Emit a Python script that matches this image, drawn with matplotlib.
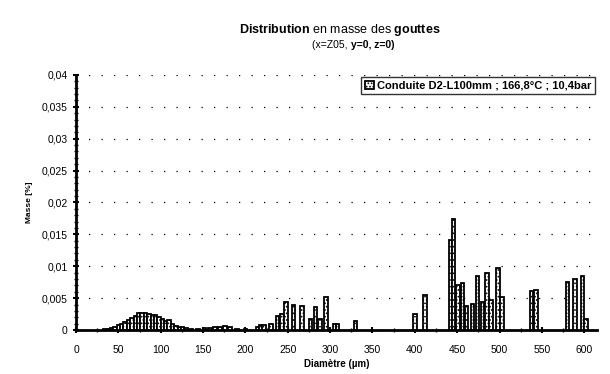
import matplotlib
matplotlib.use("Agg")
import matplotlib.pyplot as plt
from matplotlib.ticker import MultipleLocator, FuncFormatter

plt.rcParams['font.family'] = ['Liberation Sans', 'DejaVu Sans']
plt.rcParams['mathtext.fontset'] = 'custom'
plt.rcParams['mathtext.rm'] = 'Liberation Sans'
plt.rcParams['mathtext.bf'] = 'Liberation Sans:bold'
plt.rcParams['hatch.linewidth'] = 0.8

# Data: drop diameter (µm) and mass fraction
diameters = [34, 38, 42, 46, 50, 54, 58, 62, 66, 70, 74, 78, 82, 86, 90, 94, 98,
             102, 106, 110, 114, 118, 122, 126, 130, 136, 144, 152, 158, 164, 170,
             176, 182, 190, 200, 214, 218, 222, 230, 238, 243, 248, 257, 267, 277,
             283, 288, 295, 305, 309, 330, 400, 412, 442, 446, 451, 456, 461, 468,
             474, 480, 485, 490, 498, 503, 538, 543, 580, 589, 598, 602]
masses = [0.0001, 0.0002, 0.0003, 0.0005, 0.0008, 0.0010, 0.0013, 0.0016, 0.0019,
          0.0022, 0.0026, 0.0027, 0.0027, 0.0025, 0.0023, 0.0024, 0.0021, 0.0017,
          0.0014, 0.0015, 0.0010, 0.0007, 0.0005, 0.0004, 0.0003, 0.0002, 0.0002,
          0.0003, 0.0003, 0.0004, 0.0005, 0.0006, 0.0004, 0.0002, 0.0002, 0.0004,
          0.0008, 0.0008, 0.0010, 0.0022, 0.0025, 0.0044, 0.0040, 0.0038, 0.0017,
          0.0036, 0.0018, 0.0051, 0.0010, 0.0010, 0.0014, 0.0025, 0.0055, 0.0141,
          0.0174, 0.0071, 0.0073, 0.0038, 0.0041, 0.0085, 0.0044, 0.0090, 0.0047,
          0.0098, 0.0051, 0.0061, 0.0063, 0.0076, 0.0080, 0.0085, 0.0017]

legend_label = "Conduite D2-L100mm ; 166,8°C ; 10,4bar"
x_ticks = list(range(0, 601, 50))
y_ticks = [0, 0.005, 0.01, 0.015, 0.02, 0.025, 0.03, 0.035, 0.04]

fig = plt.figure(figsize=(6.10, 3.74), dpi=100)
ax = fig.add_axes([0.1246, 0.1176, 0.854, 0.682])

ax.bar(diameters, masses, width=4, color='white', edgecolor='black',
       linewidth=1.3, hatch='.....', label=legend_label, zorder=3)

ax.set_xlim(0, 615)
ax.set_ylim(0, 0.04)
ax.set_xticks(x_ticks)
ax.set_yticks(y_ticks)
ax.xaxis.set_minor_locator(MultipleLocator(25))
ax.yaxis.set_minor_locator(MultipleLocator(0.001))

def fr(v, pos):
    if abs(v) < 1e-12:
        return "0"
    s = ("%.3f" % v).rstrip('0').rstrip('.')
    return s.replace('.', ',')

ax.yaxis.set_major_formatter(FuncFormatter(fr))
ax.tick_params(axis='both', labelsize=7.5, direction='inout', length=5, width=1.5)
ax.tick_params(axis='both', which='minor', direction='inout', length=3, width=1)
ax.tick_params(axis='x', pad=8)

for s in ['top', 'right']:
    ax.spines[s].set_visible(False)
for s in ['left', 'bottom']:
    ax.spines[s].set_linewidth(2)

ax.yaxis.grid(True, linestyle=(0, (1, 9)), color='black', linewidth=0.9)
ax.set_axisbelow(True)

ax.set_xlabel("Diamètre (µm)", fontsize=7, fontweight='bold', labelpad=3)
ax.set_ylabel("Masse [%]", fontsize=6, fontweight='bold', labelpad=6)

leg = ax.legend(loc='upper right', bbox_to_anchor=(1.0, 1.0), fontsize=8,
                frameon=True, fancybox=False, edgecolor='black',
                handlelength=0.8, handletextpad=0.3, borderpad=0.3,
                borderaxespad=0.2)
leg.get_frame().set_linewidth(1.0)
for t in leg.get_texts():
    t.set_fontweight('bold')

fig.text(0.557, 0.92, r"$\mathbf{Distribution}$ en masse des $\mathbf{gouttes}$",
         ha='center', va='center', fontsize=9)
fig.text(0.575, 0.88, "(x=Z05, ", ha='right', va='center', fontsize=7.5)
fig.text(0.575, 0.88, "y=0, z=0)", ha='left', va='center', fontsize=7.5,
         fontweight='bold')

fig.savefig("out.png", dpi=100)
